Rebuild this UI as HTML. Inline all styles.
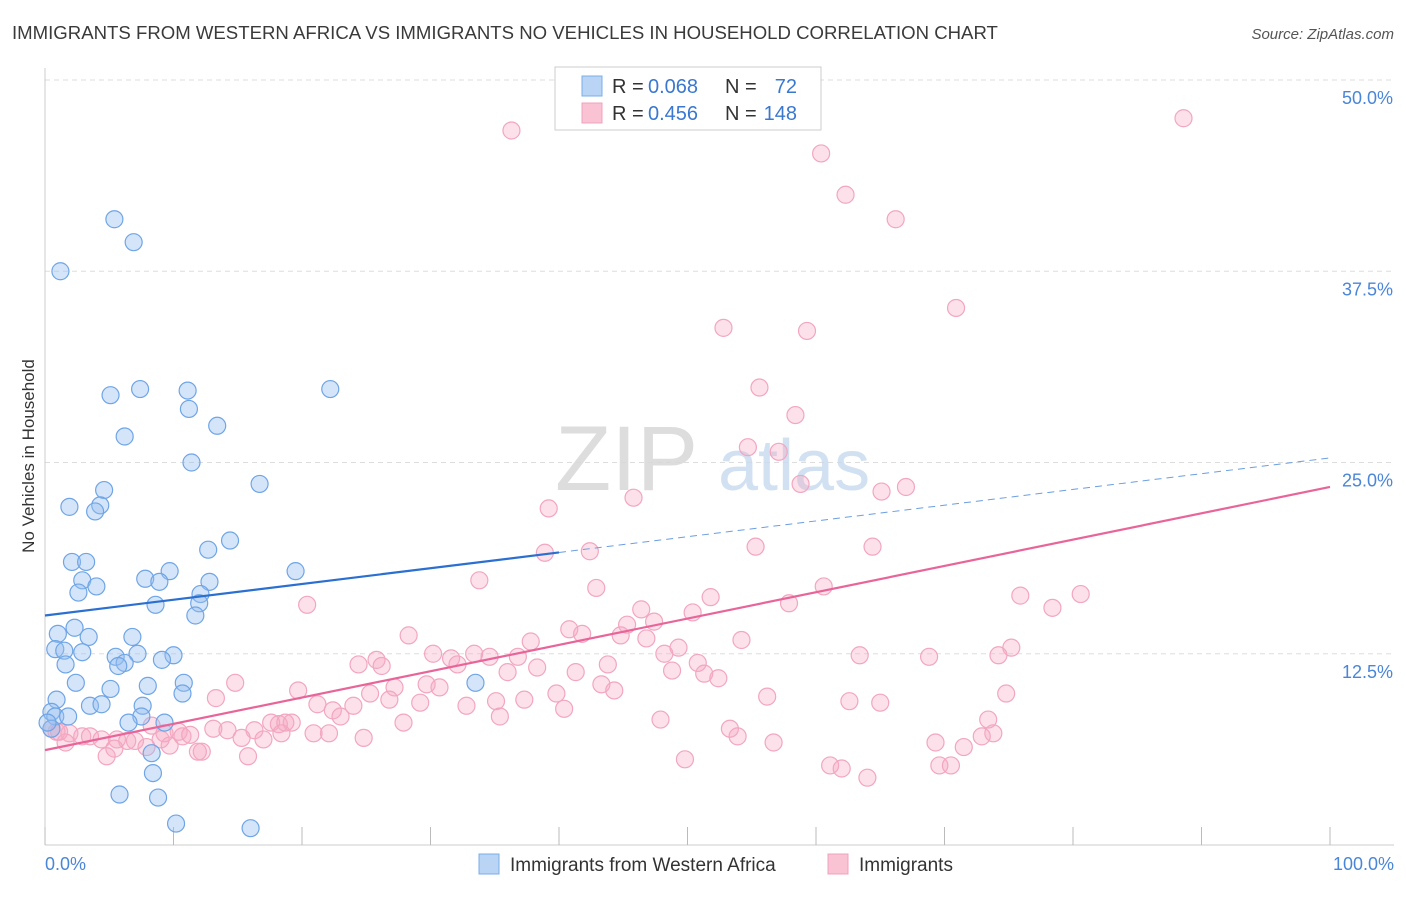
<!DOCTYPE html>
<html><head><meta charset="utf-8">
<style>
body{margin:0;background:#fff;font-family:"Liberation Sans",sans-serif;}
svg text{font-family:"Liberation Sans",sans-serif;}
</style></head>
<body>
<svg id="chart" width="1406" height="892" xmlns="http://www.w3.org/2000/svg">
<text x="12" y="39" font-size="18.6" fill="#3a3a3a">IMMIGRANTS FROM WESTERN AFRICA VS IMMIGRANTS NO VEHICLES IN HOUSEHOLD CORRELATION CHART</text>
<text x="1394" y="39" font-size="15" fill="#555" text-anchor="end" font-style="italic">Source: ZipAtlas.com</text>
<g id="grid"></g>
<text x="555" y="490" font-size="92" fill="#d8d8d8" font-family="Liberation Serif" opacity="0.85">ZIP</text>
<text x="718" y="490" font-size="72" fill="#c8daf0" opacity="0.8">atlas</text>
<g id="axes"></g>
<g id="pink"></g>
<g id="blue"></g>
<g id="trends"></g>
<text transform="translate(34,456) rotate(-90)" font-size="17" fill="#333" text-anchor="middle">No Vehicles in Household</text>
<g>
<rect x="555" y="67" width="266" height="63" fill="#fff" stroke="#ccc"/>
<rect x="582" y="76" width="20" height="20" fill="#b9d4f5" stroke="#7aaee8"/>
<rect x="582" y="103" width="20" height="20" fill="#f9c3d4" stroke="#f0a0bd"/>
<text x="612" y="93" font-size="20" fill="#333">R =</text>
<text x="648" y="93" font-size="20" fill="#3a78d0">0.068</text>
<text x="725" y="93" font-size="20" fill="#333">N =</text>
<text x="797" y="93" font-size="20" fill="#3a78d0" text-anchor="end">72</text>
<text x="612" y="120" font-size="20" fill="#333">R =</text>
<text x="648" y="120" font-size="20" fill="#3a78d0">0.456</text>
<text x="725" y="120" font-size="20" fill="#333">N =</text>
<text x="797" y="120" font-size="20" fill="#3a78d0" text-anchor="end">148</text>
</g>
<g>
<rect x="479" y="854" width="20" height="20" fill="#b9d4f5" stroke="#7aaee8"/>
<text x="510" y="871" font-size="19" fill="#333">Immigrants from Western Africa</text>
<rect x="828" y="854" width="20" height="20" fill="#f9c3d4" stroke="#f0a0bd"/>
<text x="859" y="871" font-size="19" fill="#333">Immigrants</text>
</g>
</svg>
<script>
const yTicks=[12.5,25,37.5,50];
const yTickLabels=["12.5%","25.0%","37.5%","50.0%"];
const xTickLabels=["0.0%","100.0%"];
const blueTrend=[15.0,25.3];
const pinkTrend=[6.2,23.4];
const blueX=[1.2,5.4,6.9,5.1,7.4,11.1,11.2,13.4,6.2,11.4,22.2,16.7,4.6,1.9,4.3,3.9,14.4,12.7,2.1,3.2,19.5,9.7,7.8,2.9,8.9,12.8,4.0,2.6,12.1,8.6,12.0,11.7,1.0,2.3,3.4,6.8,0.8,1.5,2.9,7.2,5.5,10.0,9.1,6.2,5.7,1.6,2.4,8.0,5.1,10.8,10.7,33.5,0.9,3.5,4.4,7.6,0.5,0.8,1.8,7.5,9.3,6.5,0.5,8.3,8.4,5.8,8.8,10.2,16.0,0.2];
const blueY=[37.5,40.9,39.4,29.4,29.8,29.7,28.5,27.4,26.7,25.0,29.8,23.6,23.2,22.1,22.2,21.8,19.9,19.3,18.5,18.5,17.9,17.9,17.4,17.3,17.2,17.2,16.9,16.5,16.4,15.7,15.8,15.0,13.8,14.2,13.6,13.6,12.8,12.7,12.6,12.5,12.3,12.4,12.1,11.9,11.7,11.8,10.6,10.4,10.2,10.6,9.9,10.6,9.5,9.1,9.2,9.1,8.7,8.4,8.4,8.4,8.0,8.0,7.6,6.0,4.7,3.3,3.1,1.4,1.1,8.0];
const pinkX=[36.3,88.6,60.4,62.3,66.2,70.9,52.8,59.3,55.6,58.4,54.7,57.1,58.8,65.1,67.0,45.8,39.2,38.9,42.4,55.3,64.4,33.8,42.9,60.6,51.8,75.9,80.6,78.4,20.4,57.9,46.4,50.4,47.4,45.3,40.8,41.8,44.8,46.8,28.3,37.8,49.3,54.2,75.2,74.2,48.2,63.4,68.8,30.2,31.6,33.4,34.6,36.8,32.1,25.8,26.2,24.4,50.8,43.8,38.3,48.8,36.0,41.3,51.3,52.4,14.8,43.3,29.7,44.3,27.2,19.7,25.3,30.7,39.8,13.3,26.8,74.8,56.2,29.2,35.1,37.3,62.6,65.0,21.2,22.4,24.0,40.4,32.8,23.0,35.4,27.9,47.9,73.4,17.6,18.2,18.7,19.2,8.3,10.4,14.2,13.1,20.9,22.1,16.3,0.5,0.9,1.9,2.9,3.5,4.4,5.6,7.0,9.0,10.7,15.3,17.0,18.4,24.8,73.8,53.9,56.7,69.3,71.5,72.9,1.6,6.4,7.9,9.7,12.2,5.4,4.8,11.9,15.8,49.8,69.6,70.5,61.1,62.0,64.0,53.3,1.1,9.3,11.3];
const pinkY=[46.7,47.5,45.2,42.5,40.9,35.1,33.8,33.6,29.9,28.1,26.0,25.7,23.6,23.1,23.4,22.7,22.0,19.1,19.2,19.5,19.5,17.3,16.8,16.9,16.2,16.3,16.4,15.5,15.7,15.8,15.4,15.2,14.6,14.4,14.1,13.8,13.7,13.5,13.7,13.3,12.9,13.4,12.9,12.4,12.5,12.4,12.3,12.5,12.2,12.5,12.3,12.3,11.8,12.1,11.7,11.8,11.9,11.8,11.6,11.4,11.3,11.3,11.2,10.9,10.6,10.5,10.5,10.1,10.3,10.1,9.9,10.3,9.9,9.6,9.5,9.9,9.7,9.3,9.4,9.5,9.4,9.3,9.2,8.8,9.1,8.9,9.1,8.4,8.4,8.0,8.2,8.2,8.0,7.9,8.0,8.0,7.8,7.4,7.5,7.6,7.3,7.3,7.5,7.6,7.4,7.3,7.1,7.1,6.9,6.9,6.8,6.9,7.1,7.0,6.9,7.3,7.0,7.3,7.1,6.7,6.7,6.4,7.1,6.7,6.8,6.4,6.5,6.1,6.3,5.8,6.1,5.8,5.6,5.2,5.2,5.2,5.0,4.4,7.6,7.4,7.3,7.2];
const NS="http://www.w3.org/2000/svg";
const X0=45,X1=1330,Y0=845,YS=15.3;
function xs(v){return X0+(X1-X0)*v/100;}
function ys(v){return Y0-v*YS;}
function mk(tag,attrs,parent){const e=document.createElementNS(NS,tag);for(const k in attrs)e.setAttribute(k,attrs[k]);parent.appendChild(e);return e;}
const grid=document.getElementById('grid'),axes=document.getElementById('axes');
yTicks.forEach((t,i)=>{
 const l=mk('line',{x1:X0,x2:1394,y1:ys(t),y2:ys(t),stroke:'#ddd','stroke-dasharray':'5,4'},grid);
 
 
 const tx=mk('text',{x:1393,y:ys(t)+24,'font-size':18,fill:'#4a86d8','text-anchor':'end'},axes);
 tx.textContent=yTickLabels[i];
 
 
});
const ax=mk('line',{x1:X0,x2:1394,y1:Y0,y2:Y0,stroke:'#ccc'},axes);


const ay=mk('line',{x1:X0,x2:X0,y1:68,y2:Y0,stroke:'#ccc'},axes);


for(let i=0;i<=10;i++){
 const t=mk('line',{x1:xs(i*10),x2:xs(i*10),y1:Y0-18,y2:Y0,stroke:'#bbb'},axes);
 
 
}
const xl0=mk('text',{x:45,y:870,'font-size':18,fill:'#4a86d8'},axes);xl0.textContent=xTickLabels[0];


const xl1=mk('text',{x:1394,y:870,'font-size':18,fill:'#4a86d8','text-anchor':'end'},axes);xl1.textContent=xTickLabels[1];


const pg=document.getElementById('pink');
pinkX.forEach((v,i)=>{const c=mk('circle',{cx:xs(v),cy:ys(pinkY[i]),r:8.5,fill:'rgba(246,170,196,0.35)',stroke:'#f2a6c0','stroke-width':1.2},pg);
 
 });
const bg=document.getElementById('blue');
blueX.forEach((v,i)=>{const c=mk('circle',{cx:xs(v),cy:ys(blueY[i]),r:8.5,fill:'rgba(150,190,240,0.4)',stroke:'#6fa5e6','stroke-width':1.2},bg);
 
 });
const tg=document.getElementById('trends');
const bx=40;
const bb=blueTrend[0]+(blueTrend[1]-blueTrend[0])*bx/100;
const t1=mk('line',{x1:xs(0),y1:ys(blueTrend[0]),x2:xs(bx),y2:ys(bb),stroke:'#2b6fd0','stroke-width':2.2},tg);


const t2=mk('line',{x1:xs(bx),y1:ys(bb),x2:xs(100),y2:ys(blueTrend[1]),stroke:'#6b9ee0','stroke-width':1,'stroke-dasharray':'7,5'},tg);


const t3=mk('line',{x1:xs(0),y1:ys(pinkTrend[0]),x2:xs(100),y2:ys(pinkTrend[1]),stroke:'#e8659a','stroke-width':2.2},tg);


</script>
</body></html>
